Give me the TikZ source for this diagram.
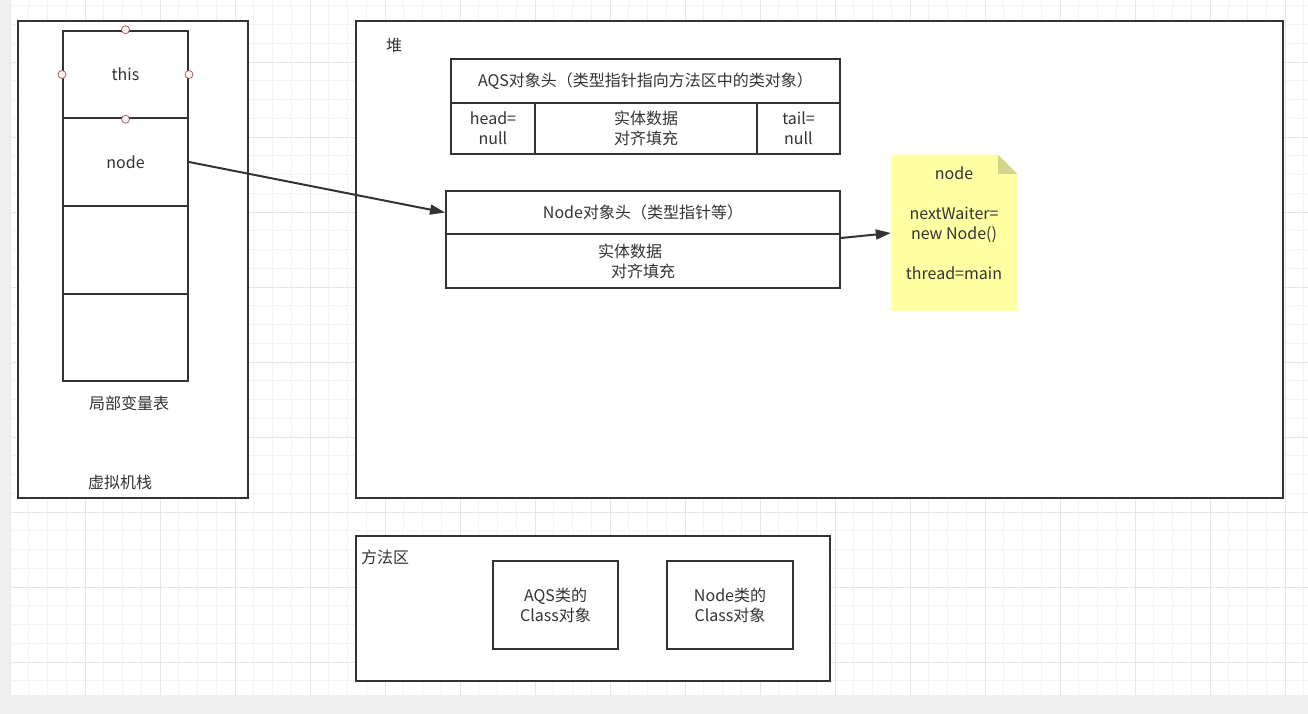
\documentclass[tikz,border=0pt]{standalone}
\usepackage{fontspec}
\setmainfont{Noto Sans CJK SC}
\usetikzlibrary{arrows.meta}
\definecolor{lineC}{HTML}{333333}
\definecolor{gridMinor}{HTML}{F3F3F3}
\definecolor{gridMajor}{HTML}{E6E6E6}
\definecolor{outside}{HTML}{F0F0F0}
\definecolor{noteC}{HTML}{FFFFA3}
\definecolor{foldC}{HTML}{D4D48C}
\definecolor{handleC}{HTML}{9A6666}
\definecolor{handleFill}{HTML}{FFF4F4}
\tikzset{
  box/.style={draw=lineC, line width=2pt, fill=white, inner sep=0pt, align=center},
  txt/.style={inner sep=0pt, align=center},
  handle/.style={circle, draw=handleC, fill=handleFill, line width=0.8pt, minimum size=8pt, inner sep=0pt},
  link/.style={draw=lineC, line width=2pt, -{Triangle[length=15pt,width=10pt]}},
}
\begin{document}
\begin{tikzpicture}[x=1pt, y=-1pt, every node/.style={font=\fontsize{16}{20}\selectfont, text=lineC}]
\useasboundingbox (0,0) rectangle (1308,714);
\fill[outside] (0,0) rectangle (1308,714);
\fill[white] (10,0) rectangle (1308,695);
\foreach \k in {0,...,69} \draw[gridMinor, line width=0.8pt] (10+18.75*\k,0) -- (10+18.75*\k,695);
\foreach \k in {0,...,36} \draw[gridMinor, line width=0.8pt] (10,5.75+18.75*\k) -- (1308,5.75+18.75*\k);
\foreach \k in {0,...,17} \draw[gridMajor, line width=0.8pt] (10+75*\k,0) -- (10+75*\k,695);
\foreach \k in {0,...,8} \draw[gridMajor, line width=0.8pt] (10,62+75*\k) -- (1308,62+75*\k);

\node[box, minimum width=230pt, minimum height=477pt] (stack) at (133,259.5) {};
\node[box, minimum width=125pt, minimum height=87.5pt] (row1) at (125.5,74.5) {this};
\node[box, minimum width=125pt, minimum height=88pt] (row2) at (125.5,162) {node};
\node[box, minimum width=125pt, minimum height=88pt] (row3) at (125.5,250) {};
\node[box, minimum width=125pt, minimum height=87pt] (row4) at (125.5,337.5) {};
\node[handle] (h1) at (row1.north) {};
\node[handle] (h2) at (row1.west) {};
\node[handle] (h3) at (row1.east) {};
\node[handle] (h4) at (row1.south) {};
\node[txt] (vars) at (129,403) {局部变量表};
\node[txt] (jvms) at (120,482) {虚拟机栈};

\node[box, minimum width=927pt, minimum height=477pt] (heap) at (819.5,259.5) {};
\node[txt] (heapname) at (394,45) {堆};
\node[box, minimum width=389pt, minimum height=44pt] (aqshead) at (645.5,81) {AQS对象头（类型指针指向方法区中的类对象）};
\node[box, minimum width=84pt, minimum height=51pt] (aqsh) at (493,128.5) {head=\\null};
\node[box, minimum width=222pt, minimum height=51pt] (aqsdata) at (646,128.5) {实体数据\\对齐填充};
\node[box, minimum width=83pt, minimum height=51pt] (aqst) at (798.5,128.5) {tail=\\null};
\node[box, minimum width=394pt, minimum height=43pt] (nodehead) at (643,212.5) {Node对象头（类型指针等）};
\node[box, minimum width=394pt, minimum height=54pt] (nodebody) at (643,261) {实体数据\kern26pt\null\\对齐填充};

\node[minimum width=126pt, minimum height=156pt, inner sep=0pt] (note) at (954,233) {};
\fill[noteC] (note.north west) -- ([xshift=-19pt]note.north east) -- ([yshift=-19pt]note.north east)
  -- (note.south east) -- (note.south west) -- cycle;
\fill[foldC] ([xshift=-19pt]note.north east) -- ([yshift=-19pt]note.north east)
  -- ([xshift=-19pt,yshift=-19pt]note.north east) -- cycle;
\node[txt] (notetext) at (954,223) {node\\[20pt]nextWaiter=\\new Node()\\[20pt]thread=main};

\draw[link] (row2.east) -- (nodehead.west);
\draw[link] ([yshift=-5pt]nodebody.north east) -- (note.west);

\node[box, minimum width=474pt, minimum height=145pt] (method) at (593,608.5) {};
\node[txt] (methodname) at (385,557) {方法区};
\node[box, minimum width=125pt, minimum height=88pt] (aqsclass) at (555.5,605) {AQS类的\\Class对象};
\node[box, minimum width=126pt, minimum height=88pt] (nodeclass) at (730,605) {Node类的\\Class对象};
\end{tikzpicture}
\end{document}
